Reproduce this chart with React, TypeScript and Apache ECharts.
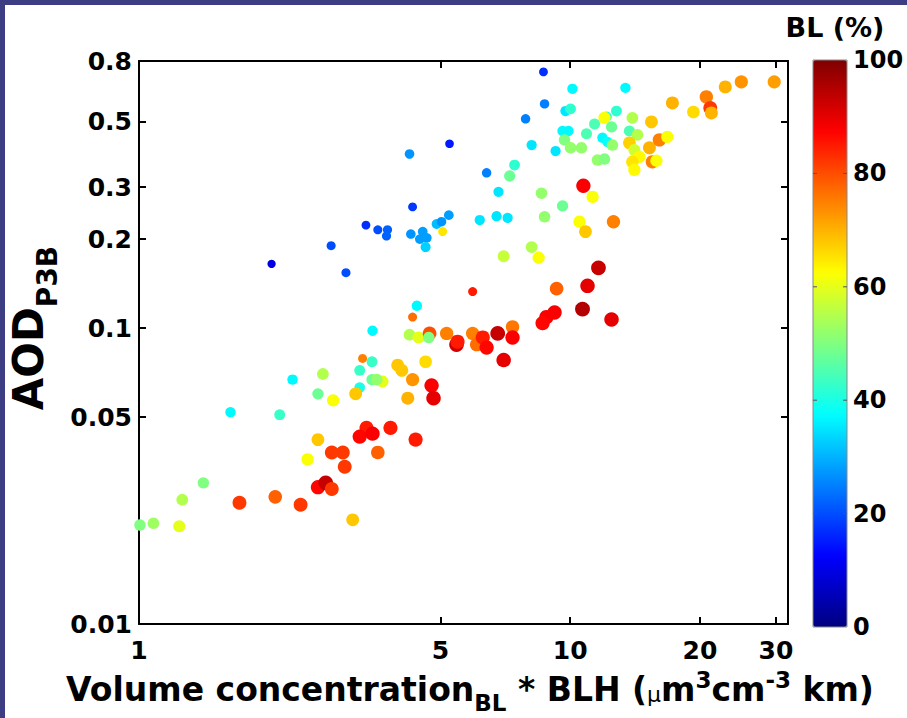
import React, { useEffect, useRef } from 'react';
import * as echarts from 'echarts';

// Axis ticks / labels
const xTickLabels = [1, 5, 10, 20, 30];
const xTickMarks = [5, 10, 20, 30];
const yTickLabels = [0.01, 0.05, 0.1, 0.2, 0.3, 0.5, 0.8];
const yTickMarks = [0.05, 0.1, 0.2, 0.3, 0.5];
const blTicks = [0, 20, 40, 60, 80, 100];

// [Volume concentration_BL * BLH, AOD_P3B, BL (%)]
const points: number[][] = [
  [4.24, 0.388, 27], [4.31, 0.257, 18], [3.36, 0.223, 17], [3.58, 0.215, 20],
  [3.77, 0.215, 22], [3.75, 0.205, 22], [2.79, 0.19, 20], [2.03, 0.165, 10],
  [3.02, 0.154, 20], [4.27, 0.208, 27], [4.55, 0.212, 28], [4.48, 0.2, 28],
  [4.65, 0.202, 28], [4.62, 0.188, 33], [4.9, 0.225, 31], [5.03, 0.229, 27],
  [5.23, 0.241, 28], [8.67, 0.735, 17], [8.72, 0.573, 25], [7.88, 0.51, 25],
  [5.25, 0.42, 15], [8.14, 0.416, 35], [9.25, 0.397, 35], [7.43, 0.356, 42],
  [7.24, 0.327, 48], [6.4, 0.335, 25], [6.82, 0.289, 35], [8.58, 0.286, 52],
  [6.17, 0.232, 35], [6.75, 0.239, 35], [7.16, 0.236, 35], [8.72, 0.238, 52],
  [7.01, 0.175, 57], [8.14, 0.188, 55], [8.45, 0.173, 62], [9.6, 0.259, 48],
  [10.12, 0.644, 37], [13.43, 0.649, 37], [9.75, 0.542, 35], [10.02, 0.551, 42],
  [12.8, 0.542, 42], [9.6, 0.464, 37], [9.91, 0.464, 37], [10.91, 0.454, 45],
  [11.39, 0.49, 45], [12.14, 0.518, 40], [12.01, 0.514, 62], [12.47, 0.479, 48],
  [13.94, 0.514, 55], [13.72, 0.464, 45], [14.32, 0.45, 55], [9.7, 0.433, 50],
  [10.02, 0.407, 52], [10.62, 0.407, 52], [11.88, 0.44, 37], [12.2, 0.426, 38],
  [12.53, 0.416, 52], [11.57, 0.37, 52], [12.01, 0.373, 50], [13.72, 0.423, 67],
  [14.09, 0.4, 58], [14.47, 0.379, 63], [13.94, 0.365, 65], [14.09, 0.343, 63],
  [15.43, 0.498, 68], [15.27, 0.407, 70], [16.1, 0.433, 75], [16.8, 0.443, 62],
  [15.51, 0.365, 75], [15.85, 0.368, 62], [17.26, 0.577, 70], [19.31, 0.538, 66],
  [20.69, 0.605, 75], [21.13, 0.555, 82], [21.25, 0.534, 70], [22.89, 0.654, 70],
  [24.94, 0.68, 73], [29.73, 0.68, 72], [10.73, 0.303, 88], [11.27, 0.278, 62],
  [10.51, 0.229, 62], [10.85, 0.212, 68], [12.6, 0.229, 75], [11.63, 0.16, 93],
  [10.97, 0.139, 90], [9.3, 0.136, 78], [10.68, 0.116, 95], [12.47, 0.107, 90],
  [9.2, 0.113, 88], [8.81, 0.109, 88], [8.63, 0.104, 87], [4.41, 0.119, 37],
  [4.24, 0.095, 55], [4.45, 0.093, 60], [4.72, 0.096, 80], [4.7, 0.093, 50],
  [5.17, 0.096, 75], [5.45, 0.088, 92], [5.48, 0.09, 85], [5.94, 0.096, 75],
  [6.07, 0.088, 77], [6.27, 0.093, 85], [6.4, 0.086, 87], [6.79, 0.096, 93],
  [7.35, 0.101, 76], [7.35, 0.093, 88], [7.01, 0.078, 90], [3.98, 0.075, 68],
  [4.07, 0.072, 68], [4.62, 0.077, 66], [4.31, 0.067, 73], [3.67, 0.066, 60],
  [4.77, 0.064, 88], [4.82, 0.058, 90], [4.2, 0.058, 70], [3.48, 0.098, 37],
  [3.47, 0.077, 43], [3.25, 0.072, 43], [3.47, 0.067, 48], [3.25, 0.063, 40],
  [3.56, 0.067, 52], [2.67, 0.07, 55], [2.6, 0.06, 48], [2.82, 0.057, 62],
  [2.27, 0.067, 37], [3.18, 0.06, 68], [1.63, 0.052, 37], [2.12, 0.051, 43],
  [3.37, 0.046, 85], [3.25, 0.043, 87], [3.48, 0.044, 88], [3.83, 0.046, 85],
  [4.38, 0.042, 85], [2.6, 0.042, 68], [2.8, 0.038, 82], [2.97, 0.038, 82],
  [3.0, 0.034, 82], [3.58, 0.038, 78], [2.46, 0.036, 62], [2.6, 0.029, 87],
  [2.71, 0.03, 93], [2.8, 0.0286, 82], [1.41, 0.03, 50], [1.26, 0.0263, 55],
  [1.71, 0.0257, 82], [2.07, 0.0269, 78], [2.37, 0.0253, 82], [1.005, 0.0216, 50],
  [1.08, 0.0219, 53], [1.24, 0.0214, 60], [3.13, 0.0225, 68],
];

// points drawn with the small marker
const smallPoints: number[][] = [
  [5.06, 0.212, 65], [5.94, 0.133, 85], [4.31, 0.109, 77], [3.3, 0.079, 75],
];

// axis title pieces: [text, kind]  (kind: main / sub / sup / mu)
const xTitle: [string, string][] = [
  ['Volume concentration', 'main'], ['BL', 'sub'], [' * BLH (', 'main'], ['\u03bc', 'mu'],
  ['m', 'main'], ['3', 'sup'], ['cm', 'main'], ['-3', 'sup'], [' km)', 'main'],
];
const yTitle: [string, string][] = [['AOD', 'main'], ['P3B', 'sub']];

const JET = ['#000080', '#0000ff', '#0080ff', '#00ffff', '#80ff80', '#ffff00', '#ff8000', '#ff0000', '#800000'];
const FONT = 'DejaVu Sans';

const CB_LEFT = 813, CB_TOP = 60, CB_W = 34, CB_H = 567;

type Kind = { size: number; weight: string; dy: number };

function layoutTitle(parts: [string, string][], kinds: Record<string, Kind>) {
  const ctx = document.createElement('canvas').getContext('2d')!;
  const widths = parts.map(([t, k]) => {
    const s = kinds[k];
    ctx.font = `${s.weight} ${s.size}px "${FONT}"`;
    return ctx.measureText(t).width;
  });
  const total = widths.reduce((a, b) => a + b, 0);
  let x = -total / 2;
  return parts.map(([t, k], i) => {
    const s = kinds[k];
    const el = {
      type: 'text', x, y: s.dy,
      style: { text: t, fill: '#000', fontSize: s.size, fontWeight: s.weight, fontFamily: FONT, align: 'left', verticalAlign: 'middle' },
    };
    x += widths[i];
    return el;
  });
}

export default function App() {
  const ref = useRef<HTMLDivElement>(null);
  useEffect(() => {
    const chart = echarts.init(ref.current!, null, { renderer: 'svg' });
    const fmt = (v: any) => String(Number(Number(v).toPrecision(3)));
    const axisLine = { show: true, onZero: false, lineStyle: { color: '#000', width: 2 } };
    const tickStyle = { color: '#000', width: 2 };
    const labelStyle = { color: '#000', fontSize: 25, fontWeight: 'bold' as const, fontFamily: FONT };

    const xBase = (pos: 'bottom' | 'top', showLabel: boolean) => ({
      type: 'log', logBase: 10, min: 1, max: 32, position: pos,
      axisLine,
      axisTick: { show: true, inside: true, length: 7, lineStyle: tickStyle, customValues: xTickMarks },
      axisLabel: { show: showLabel, customValues: xTickLabels, formatter: fmt, margin: 14, ...labelStyle },
      splitLine: { show: false }, minorTick: { show: false }, minorSplitLine: { show: false },
    });
    const yBase = (pos: 'left' | 'right', showLabel: boolean) => ({
      type: 'log', logBase: 10, min: 0.01, max: 0.8, position: pos,
      axisLine,
      axisTick: { show: true, inside: true, length: 7, lineStyle: tickStyle, customValues: yTickMarks },
      axisLabel: { show: showLabel, customValues: yTickLabels, formatter: fmt, margin: 7, ...labelStyle },
      splitLine: { show: false }, minorTick: { show: false }, minorSplitLine: { show: false },
    });

    const cbTickLines: any[] = [];
    const cbLabels: any[] = [];
    blTicks.forEach((v) => {
      const y = CB_TOP + ((100 - v) / 100) * CB_H;
      cbLabels.push({
        type: 'text', x: CB_LEFT + CB_W + 6, y,
        style: { text: String(v), fill: '#000', fontSize: 24, fontWeight: 'bold', fontFamily: FONT, align: 'left', verticalAlign: 'middle' },
      });
      if (v > 0 && v < 100) {
        cbTickLines.push({ type: 'line', shape: { x1: CB_LEFT, y1: y, x2: CB_LEFT + 4, y2: y }, style: { stroke: '#555', lineWidth: 1 } });
        cbTickLines.push({ type: 'line', shape: { x1: CB_LEFT + CB_W - 4, y1: y, x2: CB_LEFT + CB_W, y2: y }, style: { stroke: '#555', lineWidth: 1 } });
      }
    });

    const xTitleEls = layoutTitle(xTitle, {
      main: { size: 33, weight: 'bold', dy: 0 },
      sub: { size: 23, weight: 'bold', dy: 14 },
      sup: { size: 23, weight: 'bold', dy: -9 },
      mu: { size: 22, weight: 'normal', dy: 5 },
    });
    const yTitleEls = layoutTitle(yTitle, {
      main: { size: 42, weight: 'bold', dy: 0 },
      sub: { size: 28, weight: 'bold', dy: 19 },
    });

    const option: any = {
      animation: false,
      backgroundColor: '#ffffff',
      grid: { left: 139, top: 61, width: 649, height: 563, containLabel: false, outerBoundsMode: 'none' },
      xAxis: [xBase('bottom', true), xBase('top', false)],
      yAxis: [yBase('left', true), yBase('right', false)],
      visualMap: {
        type: 'continuous', min: 0, max: 100, dimension: 2, seriesIndex: [0, 1],
        inRange: { color: JET },
        show: true, calculable: false, hoverLink: false,
        orient: 'vertical', left: CB_LEFT, top: CB_TOP, itemWidth: CB_W, itemHeight: CB_H,
        padding: 0, text: null, showLabel: false,
      },
      series: [
        {
          type: 'scatter', xAxisIndex: 0, yAxisIndex: 0, data: points,
          symbol: 'circle', symbolSize: (v: number[]) => 7.5 + v[2] * 0.078,
          itemStyle: { opacity: 1, borderWidth: 0 },
          emphasis: { disabled: true },
        },
        {
          type: 'scatter', xAxisIndex: 0, yAxisIndex: 0, data: smallPoints,
          symbol: 'circle', symbolSize: 9,
          itemStyle: { opacity: 1, borderWidth: 0 },
          emphasis: { disabled: true },
        },
      ],
      graphic: [
        { type: 'rect', shape: { x: 0, y: 0, width: 907, height: 5 }, style: { fill: '#3d3d84' }, silent: true },
        { type: 'rect', shape: { x: 0, y: 0, width: 5, height: 718 }, style: { fill: '#3d3d84' }, silent: true },
        { type: 'rect', shape: { x: CB_LEFT, y: CB_TOP, width: CB_W, height: CB_H }, style: { fill: 'none', stroke: '#888', lineWidth: 1 }, silent: true, z: 100 },
        ...cbTickLines.map((l) => ({ ...l, z: 100, silent: true })),
        ...cbLabels,
        {
          type: 'text', x: 835, y: 27,
          style: { text: 'BL (%)', fill: '#000', fontSize: 27, fontWeight: 'bold', fontFamily: FONT, align: 'center', verticalAlign: 'middle' },
        },
        { type: 'group', x: 470, y: 689, children: xTitleEls },
        { type: 'group', x: 28, y: 328, rotation: Math.PI / 2, children: yTitleEls },
      ],
    };
    chart.setOption(option);
    return () => chart.dispose();
  }, []);
  return <div ref={ref} style={{ position: 'fixed', left: 0, top: 0, width: 907, height: 718, background: '#fff' }} />;
}
